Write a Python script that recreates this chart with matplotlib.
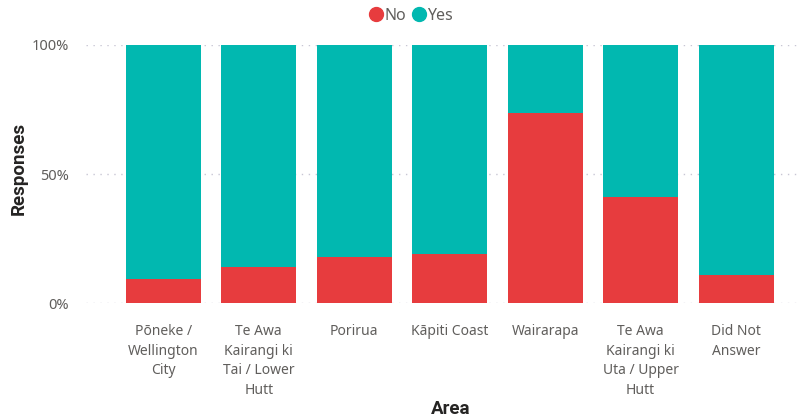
import matplotlib
matplotlib.use("Agg")
import matplotlib.pyplot as plt
from matplotlib.lines import Line2D
from matplotlib.ticker import FuncFormatter

categories = ["Pōneke /\nWellington\nCity", "Te Awa\nKairangi ki\nTai / Lower\nHutt", "Porirua",
              "Kāpiti Coast", "Wairarapa", "Te Awa\nKairangi ki\nUta / Upper\nHutt", "Did Not\nAnswer"]
no_vals = [9.5, 14.0, 18.1, 19.0, 73.6, 41.1, 11.0]
yes_vals = [90.5, 86.0, 81.9, 81.0, 26.4, 58.9, 89.0]
y_ticks = [0, 50, 100]

RED = "#E73C3E"
TEAL = "#01B8B0"
FONT = ["Noto Sans", "DejaVu Sans"]
plt.rcParams["font.family"] = FONT

fig = plt.figure(figsize=(8.01, 4.2), dpi=100)
ax = fig.add_axes([86/801, 116.7/420, 715/801, 258.3/420])

x = list(range(len(categories)))
ax.bar(x, no_vals, width=0.785, color=RED, zorder=3)
ax.bar(x, yes_vals, width=0.785, bottom=no_vals, color=TEAL, zorder=3)

ax.set_xlim(-0.81, 6.68)
ax.set_ylim(0, 100)
ax.set_yticks(y_ticks)
ax.yaxis.set_major_formatter(FuncFormatter(lambda v, p: f"{int(v)}%"))
ax.set_xticks(x)
ax.set_xticklabels(categories, linespacing=1.42)
ax.tick_params(axis="both", length=0, colors="#605E5C")
ax.tick_params(axis="x", pad=15, labelsize=10)
ax.tick_params(axis="y", pad=12, labelsize=10.5)
for s in ax.spines.values():
    s.set_visible(False)
ax.yaxis.grid(True, linestyle=(0, (1, 4)), color="#C8C6D4", linewidth=1, zorder=0)
ax.set_axisbelow(True)

TITLE_FONT = ["Roboto", "DejaVu Sans"]
fig.text(19/801, 1 - 168/420, "Responses", rotation=90, ha="center", va="center",
         fontsize=13.5, fontweight="bold", color="#252423", family=TITLE_FONT)
fig.text(451/801, 1 - 409/420, "Area", ha="center", va="center",
         fontsize=13.5, fontweight="bold", color="#252423", family=TITLE_FONT)

handles = [Line2D([], [], marker="o", linestyle="", markersize=10, color=RED, label="No"),
           Line2D([], [], marker="o", linestyle="", markersize=10, color=TEAL, label="Yes")]
fig.legend(handles=handles, loc="center", bbox_to_anchor=(411/801, 1 - 16/420), ncol=2,
           frameon=False, fontsize=11.5, handletextpad=0.05, columnspacing=0.4,
           handlelength=0.9, labelcolor="#605E5C")

fig.savefig("out.png", dpi=100)
